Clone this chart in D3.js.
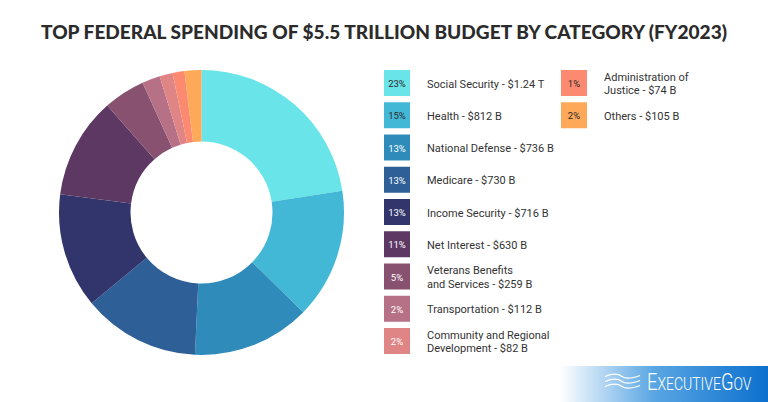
<!DOCTYPE html>
<html>
<head>
<meta charset="utf-8">
<script src="https://cdn.jsdelivr.net/npm/d3@7/dist/d3.min.js"></script>
<style>
  body { margin: 0; background: #fff; }
  svg { display: block; }
</style>
</head>
<body>
<svg width="768" height="402"></svg>
<script>
// categories in pie order, clockwise from 12 o'clock
const categories = ['Social Security', 'Health', 'National Defense', 'Medicare', 'Income Security',
  'Net Interest', 'Veterans Benefits and Services', 'Transportation',
  'Community and Regional Development', 'Administration of Justice', 'Others'];
// spending in billions of dollars
const spending = [1240, 812, 736, 730, 716, 630, 259, 112, 82, 74, 105];
// percent shown in the legend boxes
const percentLabels = ['23%', '15%', '13%', '13%', '13%', '11%', '5%', '2%', '2%', '1%', '2%'];
// legend text, split where the picture wraps it
const legendLabels = [
  ['Social Security - $1.24 T'],
  ['Health - $812 B'],
  ['National Defense - $736 B'],
  ['Medicare - $730 B'],
  ['Income Security - $716 B'],
  ['Net Interest - $630 B'],
  ['Veterans Benefits', 'and Services - $259 B'],
  ['Transportation - $112 B'],
  ['Community and Regional', 'Development - $82 B'],
  ['Administration of', 'Justice - $74 B'],
  ['Others - $105 B']
];

const colors = ['#69e4e8', '#43b7d6', '#2e8bba', '#2e5f97', '#31356b', '#5d3863',
  '#87516f', '#b77186', '#e08585', '#fc8a70', '#fea85a'];

const svg = d3.select('svg');

// title
svg.append('text')
  .attr('x', 41)
  .attr('y', 39)
  .attr('textLength', 686)
  .attr('lengthAdjust', 'spacingAndGlyphs')
  .style('font-family', 'Lato, "Open Sans", sans-serif')
  .style('font-weight', 900)
  .style('font-size', '19.5px')
  .style('fill', '#2b2b2b')
  .text('TOP FEDERAL SPENDING OF $5.5 TRILLION BUDGET BY CATEGORY (FY2023)');

// donut
const center = { x: 201.5, y: 212.5 };
const pie = d3.pie().sort(null).value(d => d.value);
const arc = d3.arc().innerRadius(71).outerRadius(142.5);
const color = d3.scaleOrdinal().domain(categories).range(colors);

const slices = categories.map((c, i) => ({ name: c, value: spending[i] }));

svg.append('g')
  .attr('transform', 'translate(' + center.x + ',' + center.y + ')')
  .selectAll('path')
  .data(pie(slices))
  .enter()
  .append('path')
  .attr('d', arc)
  .attr('fill', d => color(d.data.name));

// legend, 9 rows in first column, rest in second
const rowH = 32.25;
const legend = svg.append('g')
  .selectAll('g')
  .data(categories)
  .enter()
  .append('g')
  .attr('transform', function (d, i) {
    const col = i < 9 ? 0 : 1;
    const row = i < 9 ? i : i - 9;
    return 'translate(' + (col === 0 ? 384 : 561) + ',' + (70 + row * rowH) + ')';
  });

legend.append('rect')
  .attr('width', 26)
  .attr('height', 26)
  .attr('fill', d => color(d));

legend.append('text')
  .attr('x', 13)
  .attr('y', 13.5)
  .attr('text-anchor', 'middle')
  .attr('dominant-baseline', 'central')
  .style('font-family', 'Roboto, sans-serif')
  .style('font-size', '9.5px')
  .style('fill', d => d3.lab(color(d)).l > 67 ? '#2a2a2a' : '#ffffff')
  .text((d, i) => percentLabels[i]);

legend.append('text')
  .attr('x', 43)
  .attr('y', 13.5)
  .attr('dominant-baseline', 'central')
  .style('font-family', 'Roboto, sans-serif')
  .style('font-size', '11px')
  .style('fill', '#333333')
  .each(function (d, i) {
    const lines = legendLabels[i];
    d3.select(this).selectAll('tspan')
      .data(lines)
      .enter()
      .append('tspan')
      .attr('x', 43)
      .attr('dy', (l, j) => j === 0 ? -(lines.length - 1) * 6.75 : 13.5)
      .text(l => l);
  });

// ExecutiveGov banner
const defs = svg.append('defs');
const grad = defs.append('linearGradient').attr('id', 'bannerGrad');
grad.append('stop').attr('offset', '0%').attr('stop-color', '#ffffff');
grad.append('stop').attr('offset', '45%').attr('stop-color', '#5aa6e3');
grad.append('stop').attr('offset', '100%').attr('stop-color', '#0c6fcd');

svg.append('rect')
  .attr('x', 560)
  .attr('y', 366)
  .attr('width', 208)
  .attr('height', 36)
  .attr('fill', 'url(#bannerGrad)');

// wave icon
const waves = svg.append('g')
  .attr('fill', 'none')
  .attr('stroke', '#ffffff')
  .attr('stroke-width', 1.3);
[376.5, 381.5, 386.5].forEach(function (y0) {
  waves.append('path')
    .attr('d', 'M605,' + y0 + ' C612,' + (y0 - 3) + ' 618,' + (y0 - 3) + ' 622,' + y0 +
      ' S632,' + (y0 + 2) + ' 640,' + (y0 - 1));
});

// condensed look by squeezing the group horizontally
const logo = svg.append('g')
  .attr('transform', 'translate(647,390) scale(0.8,1)')
  .append('text')
  .style('font-family', 'Roboto, sans-serif')
  .style('font-weight', 300)
  .style('fill', '#ffffff');
logo.append('tspan').style('font-size', '23px').text('E');
logo.append('tspan').style('font-size', '17.5px').text('XECUTIVE');
logo.append('tspan').style('font-size', '23px').text('G');
logo.append('tspan').style('font-size', '17.5px').text('OV');
</script>
</body>
</html>
